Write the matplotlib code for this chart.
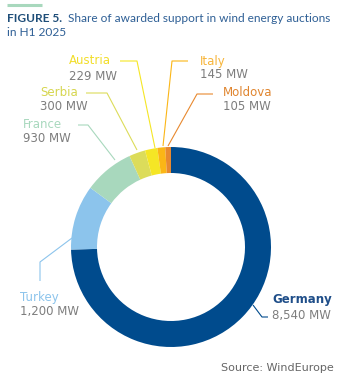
import matplotlib
matplotlib.use("Agg")
import matplotlib.pyplot as plt

countries = ["Germany", "Turkey", "France", "Serbia", "Austria", "Italy", "Moldova"]
values_mw = [8540, 1200, 930, 300, 229, 145, 105]
value_labels = ["8,540 MW", "1,200 MW", "930 MW", "300 MW", "229 MW", "145 MW", "105 MW"]
colors = ["#004B8D", "#8CC4EC", "#A8D8BD", "#DCDC5A", "#F5E625", "#FBB616", "#E8892F"]
name_colors = ["#1F4E89", "#8CC4EC", "#A8D8BD", "#D6D64E", "#F2DE2A", "#F7B53A", "#E0852F"]

W, H = 346, 383
fig = plt.figure(figsize=(W / 100, H / 100), dpi=100)
ax = fig.add_axes([0, 0, 1, 1])

def Y(y):
    return H - y

# donut
cx, cy, R, w = 171, 247, 100, 26
ax.pie(values_mw, colors=colors, startangle=90, counterclock=False,
       center=(cx, Y(cy)), radius=R, wedgeprops=dict(width=w, linewidth=0),
       frame=True)
ax.set_xlim(0, W)
ax.set_ylim(0, H)
ax.set_aspect("equal")
ax.axis("off")

LFONT = "DejaVu Sans"
gray = "#7D7D7D"
LFS = 8.5

# label layout: (name x, name y, value y, leader polyline)
layout = {
    "Austria": (69, 61, 76, [(120, 61), (137, 61), (155, 148)]),
    "Serbia": (40, 92, 107, [(86, 93), (107, 93), (137, 150)]),
    "France": (23, 124, 139, [(78, 125), (88, 125), (115, 160)]),
    "Italy": (200, 61, 75, [(188, 61), (172, 61), (163, 146)]),
    "Moldova": (223, 92, 106, [(213, 94), (197, 94), (168, 146)]),
    "Turkey": (20, 297, 312, [(40, 281), (40, 262), (72, 238)]),
    "Germany": (272, 300, 315, [(268, 317), (262, 317), (253, 305)]),
}

for name, val, col, ncol in zip(countries, value_labels, colors, name_colors):
    nx, ny, vy, pts = layout[name]
    ax.text(nx, Y(ny), name, color=ncol, fontsize=LFS,
            fontweight="semibold" if name == "Germany" else "normal",
            family=LFONT, ha="left", va="center")
    ax.text(nx, Y(vy), val, color=gray, fontsize=LFS, family=LFONT, ha="left", va="center")
    xs = [p[0] for p in pts]
    ys = [Y(p[1]) for p in pts]
    ax.plot(xs, ys, color=col, lw=0.8, solid_capstyle="butt")

# header
ax.plot([7, 42], [Y(5), Y(5)], color="#A8D8BD", lw=2.2, solid_capstyle="butt")
FONT = "Lato"
title_color = "#2E5F95"
TFS = 8.6
ax.text(7, Y(18), "FIGURE 5.", color="#1F4E79", fontsize=TFS, fontweight="bold",
        family=FONT, ha="left", va="center")
ax.text(68, Y(18), "Share of awarded support in wind energy auctions", color=title_color,
        fontsize=TFS, family=FONT, ha="left", va="center")
ax.text(7, Y(33), "in H1 2025", color=title_color, fontsize=TFS, family=FONT, ha="left", va="center")

ax.text(334, Y(368), "Source: WindEurope", color="#666666", fontsize=8, family=LFONT,
        ha="right", va="center")

fig.savefig("out.png", dpi=100, facecolor="white")
